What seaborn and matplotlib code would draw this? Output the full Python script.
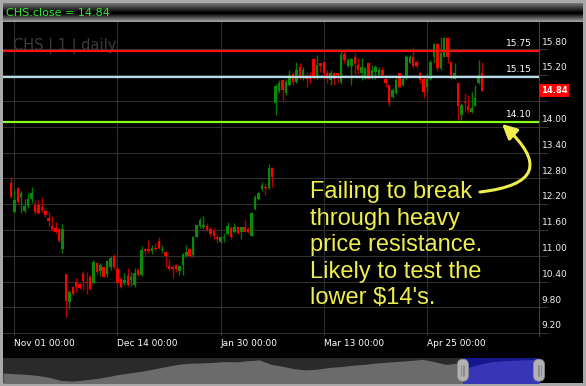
import numpy as np
import matplotlib.pyplot as plt
import seaborn as sns
from matplotlib.patches import Rectangle, FancyBboxPatch
from matplotlib.lines import Line2D
from matplotlib.transforms import IdentityTransform, blended_transform_factory

# daily candles, Nov -> May
opens = [12.70, 12.01, 12.58, 12.36, 12.05, 12.16, 12.33, 12.18, 12.18, 12.14,
         12.05, 11.87, 11.69, 11.64, 11.61, 11.15, 10.57, 9.93, 10.28, 10.40,
         10.34, 10.57, 10.40, 10.50, 10.37, 10.82, 10.65, 10.74, 10.57, 10.74,
         10.99, 10.69, 10.45, 10.36, 10.53, 10.43, 10.32, 10.67, 10.55, 11.16,
         11.16, 11.10, 11.19, 11.35, 11.13, 11.09, 10.76, 10.74, 10.78, 10.65,
         10.78, 10.99, 11.15, 11.02, 11.44, 11.69, 11.66, 11.69, 11.61, 11.58,
         11.42, 11.33, 11.41, 11.50, 11.64, 11.54, 11.67, 11.54, 11.66, 11.62,
         11.46, 12.08, 12.31, 12.54, 12.60, 12.57, 13.05, 14.54, 14.84, 15.09,
         14.78, 14.97, 15.23, 15.03, 15.38, 15.16, 15.18, 15.16, 15.57, 15.16,
         15.47, 15.51, 15.26, 15.09, 15.26, 15.24, 15.03, 15.69, 15.41, 15.41,
         15.63, 15.44, 15.26, 15.16, 15.49, 15.16, 15.28, 15.20, 15.33, 15.10,
         14.97, 14.70, 14.79, 15.24, 14.97, 15.16, 15.47, 15.63, 15.51, 15.26,
         15.12, 14.93, 15.12, 15.61, 15.92, 15.36, 15.63, 16.06, 15.51, 15.12,
         15.01, 14.27, 14.58, 14.47, 14.35, 14.48, 15.01, 15.26]
highs = [12.82, 12.54, 12.59, 12.51, 12.31, 12.45, 12.59, 12.30, 12.30, 12.37,
         12.12, 12.02, 11.92, 11.79, 11.64, 11.74, 10.57, 10.20, 10.30, 10.49,
         10.36, 10.65, 10.61, 10.55, 10.90, 10.86, 10.82, 10.76, 10.90, 10.99,
         11.04, 10.74, 10.50, 10.59, 10.71, 10.61, 10.71, 10.71, 11.23, 11.17,
         11.36, 11.25, 11.29, 11.43, 11.25, 11.12, 10.92, 10.78, 10.80, 10.78,
         11.06, 11.26, 11.17, 11.46, 11.74, 11.87, 11.92, 11.75, 11.67, 11.64,
         11.48, 11.46, 11.52, 11.79, 11.69, 11.77, 11.69, 11.66, 11.83, 11.66,
         12.02, 12.41, 12.49, 12.72, 12.70, 13.13, 13.06, 14.99, 15.09, 15.10,
         15.10, 15.32, 15.28, 15.51, 15.49, 15.38, 15.28, 15.28, 15.57, 15.67,
         15.49, 15.51, 15.33, 15.33, 15.28, 15.26, 15.75, 15.78, 15.59, 15.59,
         15.71, 15.59, 15.59, 15.38, 15.51, 15.44, 15.44, 15.40, 15.40, 15.13,
         14.97, 14.89, 15.13, 15.24, 15.20, 15.67, 15.67, 15.86, 15.54, 15.28,
         15.16, 15.24, 15.54, 15.95, 15.94, 16.08, 16.09, 16.08, 15.51, 15.47,
         15.05, 14.54, 14.78, 14.74, 14.81, 14.97, 15.54, 15.50]
lows = [12.34, 12.00, 12.22, 12.00, 11.99, 12.10, 12.22, 11.97, 11.97, 12.02,
        11.91, 11.69, 11.58, 11.52, 11.33, 11.06, 9.58, 9.75, 10.09, 10.16,
        10.22, 10.20, 10.12, 10.20, 10.37, 10.57, 10.53, 10.50, 10.51, 10.67,
        10.68, 10.34, 10.26, 10.32, 10.29, 10.29, 10.28, 10.53, 10.53, 11.02,
        11.06, 11.04, 11.12, 11.15, 11.06, 10.74, 10.67, 10.49, 10.63, 10.55,
        10.55, 10.98, 10.98, 10.98, 11.43, 11.64, 11.61, 11.58, 11.46, 11.40,
        11.30, 11.30, 11.33, 11.48, 11.38, 11.52, 11.50, 11.39, 11.54, 11.52,
        11.46, 12.06, 12.30, 12.51, 12.41, 12.54, 12.59, 14.27, 14.78, 14.62,
        14.74, 14.95, 14.97, 15.01, 15.12, 15.09, 14.93, 15.01, 15.12, 15.12,
        15.28, 15.12, 15.02, 14.97, 14.97, 15.01, 14.99, 15.47, 15.40, 14.97,
        15.20, 15.23, 15.09, 15.10, 15.10, 15.12, 15.12, 15.16, 15.16, 14.93,
        14.47, 14.66, 14.76, 14.89, 14.95, 15.10, 15.47, 15.36, 15.36, 15.01,
        14.66, 14.81, 15.09, 15.47, 15.33, 15.33, 15.63, 15.47, 15.10, 15.10,
        14.16, 14.16, 14.35, 14.33, 14.31, 14.47, 14.99, 14.84]
closes = [12.36, 12.30, 12.26, 12.45, 12.16, 12.33, 12.45, 12.02, 11.99, 12.06,
          11.95, 11.81, 11.61, 11.56, 11.35, 11.62, 9.95, 10.16, 10.11, 10.28,
          10.24, 10.41, 10.36, 10.23, 10.86, 10.61, 10.78, 10.51, 10.88, 10.95,
          10.74, 10.36, 10.28, 10.43, 10.32, 10.51, 10.59, 10.55, 11.13, 11.12,
          11.12, 11.19, 11.15, 11.17, 11.15, 10.99, 10.68, 10.69, 10.70, 10.75,
          11.03, 11.09, 10.99, 11.44, 11.71, 11.83, 11.71, 11.60, 11.50, 11.47,
          11.40, 11.43, 11.43, 11.69, 11.43, 11.67, 11.52, 11.66, 11.56, 11.54,
          12.00, 12.37, 12.47, 12.64, 12.57, 13.05, 12.82, 14.95, 15.02, 14.85,
          15.05, 15.20, 15.05, 15.32, 15.16, 15.33, 15.10, 15.12, 15.16, 15.44,
          15.41, 15.24, 15.16, 15.26, 15.10, 15.20, 15.67, 15.54, 15.54, 15.57,
          15.46, 15.32, 15.40, 15.36, 15.12, 15.33, 15.38, 15.32, 15.20, 15.01,
          14.56, 14.85, 15.09, 14.93, 15.10, 15.63, 15.63, 15.41, 15.41, 15.09,
          14.81, 15.12, 15.51, 15.92, 15.36, 15.72, 16.06, 15.63, 15.16, 15.26,
          14.47, 14.51, 14.56, 14.39, 14.43, 14.66, 15.20, 14.84]

date_ticks = [1, 31, 61, 91, 121]
date_labels = ["Nov 01 00:00", "Dec 14 00:00", "Jan 30 00:00", "Mar 13 00:00", "Apr 25 00:00"]
price_ticks = [9.2, 9.8, 10.4, 11.0, 11.6, 12.2, 12.8, 13.4, 14.0, 14.6, 15.2, 15.8]
levels = [15.75, 15.15, 14.10]
level_colors = ["#ff1010", "#b8dce8", "#8cff1a"]
last_close = 14.84

# overview strip at the bottom (several years of closes)
nav_values = [11.5, 11.2, 11.0, 10.6, 9.9, 8.8, 8.6, 9.0, 9.5, 10.2,
              11.0, 11.6, 12.2, 13.0, 13.8, 14.6, 15.0, 15.1, 15.3, 15.6,
              15.5, 15.9, 16.2, 14.6, 13.9, 13.0, 12.6, 12.9, 13.5, 13.8,
              14.3, 14.6, 15.1, 15.4, 15.7, 16.0, 16.4, 15.6, 14.6, 15.0,
              13.6, 14.8, 15.6, 15.9, 16.1, 16.3, 16.4]
nav_window_start = 0.858

note = "Failing to break\nthrough heavy\nprice resistance.\nLikely to test the\nlower $14's."

sns.set_style("dark", {"axes.facecolor": "black", "grid.color": "#303030"})
plt.rcParams['font.family'] = ['DejaVu Sans']

W, H = 586, 386
fig = plt.figure(figsize=(W / 100, H / 100), dpi=100, facecolor="#a9a9a9")
fig.add_artist(Rectangle((3 / W, 3 / H), 580 / W, 361 / H, transform=fig.transFigure,
                         fc="black", ec="none", zorder=0))

# title bar
bar_ax = fig.add_axes([3 / W, 364 / H, 580 / W, 19 / H])
shade = np.concatenate([np.linspace(0.45, 0.0, 10), np.linspace(0.0, 0.62, 9)]).reshape(-1, 1)
bar_ax.imshow(shade, aspect="auto", cmap="gray", vmin=0, vmax=1)
bar_ax.axis("off")
bar_ax.text(3 / 580, 0.45, "CHS.close = 14.84", transform=bar_ax.transAxes, color="#2ee82e",
            fontsize=8, va="center", ha="left")

# main price chart
ax = fig.add_axes([3 / W, 50 / H, 536 / W, 314 / H])
ax.set_facecolor("black")
o = np.array(opens)
c = np.array(closes)
x = np.arange(len(c))
up = c >= o
wick_cols = np.where(up, "#007a00", "#b80000")
body_cols = np.where(up, "#0a8a0a", "#ff0000")
ax.vlines(x, lows, highs, colors=wick_cols, lw=1.0, zorder=2)
ax.bar(x, np.maximum(np.abs(c - o), 0.025), bottom=np.minimum(o, c), width=0.72,
       color=body_cols, linewidth=0, zorder=3)

for lv, col in zip(levels, level_colors):
    ax.axhline(lv, color=col, lw=1.6, zorder=4)

ax.set_xlim(-2.29, 153.57)
ax.set_ylim(9.133, 16.435)
ax.set_xticks(date_ticks, date_labels)
ax.set_yticks(price_ticks)
ax.yaxis.tick_right()
ax.tick_params(axis="x", length=0, pad=2, labelsize=6.5, labelcolor="white")
ax.tick_params(axis="y", length=6.5, width=0.8, color="#333333", labelright=False, labelleft=False)
for lbl in ax.get_xticklabels():
    lbl.set_ha("left")
ax.grid(True, color="#303030", lw=0.8)
for side in ["top", "left", "bottom"]:
    ax.spines[side].set_visible(False)
ax.spines["right"].set_color("#404040")
ax.spines["right"].set_linewidth(0.8)

trans = blended_transform_factory(ax.transAxes, ax.transData)
for v in price_ticks:
    if abs(v - last_close) < 0.3:
        continue  # hidden behind the last-price box
    ax.annotate(f"{v:.2f}", xy=(1, v), xycoords=trans, xytext=(2, 2), textcoords="offset points",
                ha="left", va="bottom", fontsize=6.5, color="#f0f0f0", annotation_clip=False)
for lv in levels:
    ax.annotate(f"{lv:.2f}", xy=(1, lv), xycoords=trans, xytext=(-5, 2.5), textcoords="offset points",
                ha="right", va="bottom", fontsize=6.5, color="white", zorder=5)
ax.annotate(f"{last_close:.2f}", xy=(1, last_close), xycoords=trans, xytext=(1.5, 0),
            textcoords="offset points", ha="left", va="center", fontsize=6, fontweight="bold",
            color="white", annotation_clip=False, zorder=6,
            bbox=dict(boxstyle="square,pad=0.2", fc="#ff0000", ec="none"))

ax.text(0.0187, 0.925, "CHS | 1 | daily", transform=ax.transAxes, fontsize=10.5,
        color="#3c3c3c", va="center", ha="left", zorder=1)

ax.text(0.573, 0.4936, note, transform=ax.transAxes, fontsize=17, color="#eeee4c",
        family=["Liberation Sans", "DejaVu Sans"], va="top", ha="left", linespacing=1.27, zorder=6)
ax.annotate("", xy=(502, 262), xycoords="figure pixels", xytext=(480, 194), textcoords="figure pixels",
            arrowprops=dict(arrowstyle="-|>", connectionstyle="arc3,rad=1.1", color="#eeee4c",
                            lw=2.2, mutation_scale=22, shrinkA=0, shrinkB=0),
            annotation_clip=False, zorder=6)

# navigator strip
nav = fig.add_axes([3 / W, 3.3 / H, 536 / W, 25 / H])
nav.set_facecolor("#2a2a2a")
nx = np.arange(len(nav_values))
nav.fill_between(nx, nav_values, 0, color="#6b6b6b", lw=0, zorder=1)
nav.set_xlim(0, len(nav_values) - 1)
nav.set_ylim(8, 17)
win_x0 = nav_window_start * (len(nav_values) - 1)
win = nav.axvspan(win_x0, len(nav_values) - 1, color="#16168e", lw=0, zorder=2)
blue = nav.fill_between(nx, nav_values, 0, color="#3636b6", lw=0, zorder=3)
blue.set_clip_path(win)
nav.set_xticks([])
nav.set_yticks([])
nav.grid(False)
for s in nav.spines.values():
    s.set_visible(False)

y0 = nav.transAxes.transform((0, 0))[1]
for wx in (win_x0, len(nav_values) - 1):
    cx = nav.transData.transform((wx, 0))[0]
    fig.add_artist(FancyBboxPatch((cx - 5.5, y0 + 1.5), 11, 22, boxstyle="round,pad=0,rounding_size=5.5",
                                  transform=IdentityTransform(), fc="#b2b2b2", ec="#8c8c8c",
                                  lw=0.6, zorder=5))
    for dx in (-1.5, 0, 1.5):
        fig.add_artist(Line2D([cx + dx, cx + dx], [y0 + 7, y0 + 18], transform=IdentityTransform(),
                              color="#7a7a7a", lw=0.5, zorder=6))

fig.savefig("out.png", dpi=100, facecolor=fig.get_facecolor())
